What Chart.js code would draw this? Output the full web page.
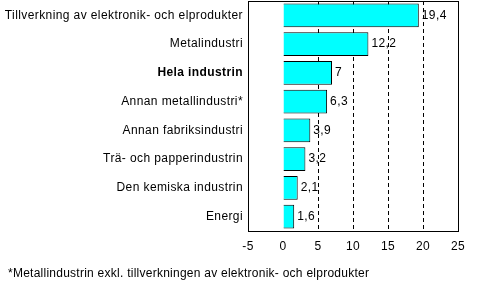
<!DOCTYPE html>
<html><head><meta charset="utf-8">
<script src="https://cdn.jsdelivr.net/npm/chart.js@4"></script>
<style>html,body{margin:0;padding:0;background:#fff}#wrap{width:503px;height:281px;position:relative}</style>
</head><body>
<div id="wrap"><canvas id="c" width="503" height="281"></canvas></div>
<script>
const categories = ["Tillverkning av elektronik- och elprodukter","Metalindustri","Hela industrin","Annan metallindustri*","Annan fabriksindustri","Trä- och papperindustrin","Den kemiska industrin","Energi"];
const values = [19.4, 12.2, 7, 6.3, 3.9, 3.2, 2.1, 1.6];
const valueLabels = ["19,4","12,2","7","6,3","3,9","3,2","2,1","1,6"];
const xTicks = [-5, 0, 5, 10, 15, 20, 25];
const boldCategory = "Hela industrin";
const footnote = "*Metallindustrin exkl. tillverkningen av elektronik- och elprodukter";

const FONT = "'Liberation Sans', Arial, sans-serif";

const spacing = {
  id: 'spacing',
  beforeInit(chart) { chart.ctx.letterSpacing = '0.4px'; },
  beforeUpdate(chart) { chart.ctx.letterSpacing = '0.4px'; },
  beforeDraw(chart) { chart.ctx.letterSpacing = '0.4px'; }
};

const extras = {
  id: 'extras',
  afterDatasetsDraw(chart) {
    const ctx = chart.ctx;
    const meta = chart.getDatasetMeta(0);
    ctx.save();
    ctx.fillStyle = '#000';
    ctx.font = '12px ' + FONT;
    ctx.letterSpacing = '0.4px';
    ctx.textBaseline = 'middle';
    ctx.textAlign = 'left';
    meta.data.forEach((bar, i) => {
      ctx.fillText(valueLabels[i], bar.x + 3, bar.y);
    });
    const a = chart.chartArea;
    ctx.strokeStyle = '#000';
    ctx.lineWidth = 1;
    ctx.strokeRect(Math.round(a.left) + 0.5, Math.round(a.top) + 0.5, Math.round(a.right - a.left), Math.round(a.bottom - a.top));
    ctx.letterSpacing = '0.25px';
    ctx.fillText(footnote, 8, 274);
    ctx.restore();
  }
};

new Chart(document.getElementById('c'), {
  type: 'bar',
  data: {
    labels: categories,
    datasets: [{
      data: values,
      backgroundColor: '#00FFFF',
      borderColor: '#000',
      borderWidth: 1,
      borderSkipped: 'start',
      categoryPercentage: 0.83,
      barPercentage: 1.0
    }]
  },
  options: {
    indexAxis: 'y',
    responsive: false,
    animation: false,
    devicePixelRatio: 1,
    layout: { padding: { top: 1, right: 45, left: 0, bottom: 0 } },
    plugins: { legend: { display: false }, tooltip: { enabled: false } },
    scales: {
      x: {
        min: -5, max: 25,
        afterBuildTicks(scale) { scale.ticks = xTicks.map(v => ({ value: v })); },
        afterFit(scale) { scale.height = 50; },
        border: { display: false, dash: [4, 3] },
        grid: {
          drawTicks: false,
          color: ctx => ([5,10,15,20].includes(ctx.tick && ctx.tick.value) ? '#000' : 'rgba(0,0,0,0)'),
          lineWidth: 1
        },
        ticks: { color: '#000', font: { family: FONT, size: 12 }, padding: 8, maxRotation: 0 }
      },
      y: {
        afterFit(scale) { scale.width = 248; scale.paddingTop = 0; scale.paddingBottom = 0; },
        border: { display: false },
        grid: { display: false, drawTicks: false },
        ticks: {
          color: '#000',
          padding: 5,
          autoSkip: false,
          font: ctx => ({ family: FONT, size: 12, weight: categories[ctx.index] === boldCategory ? 'bold' : 'normal' })
        }
      }
    }
  },
  plugins: [spacing, extras]
});
</script>
</body></html>
